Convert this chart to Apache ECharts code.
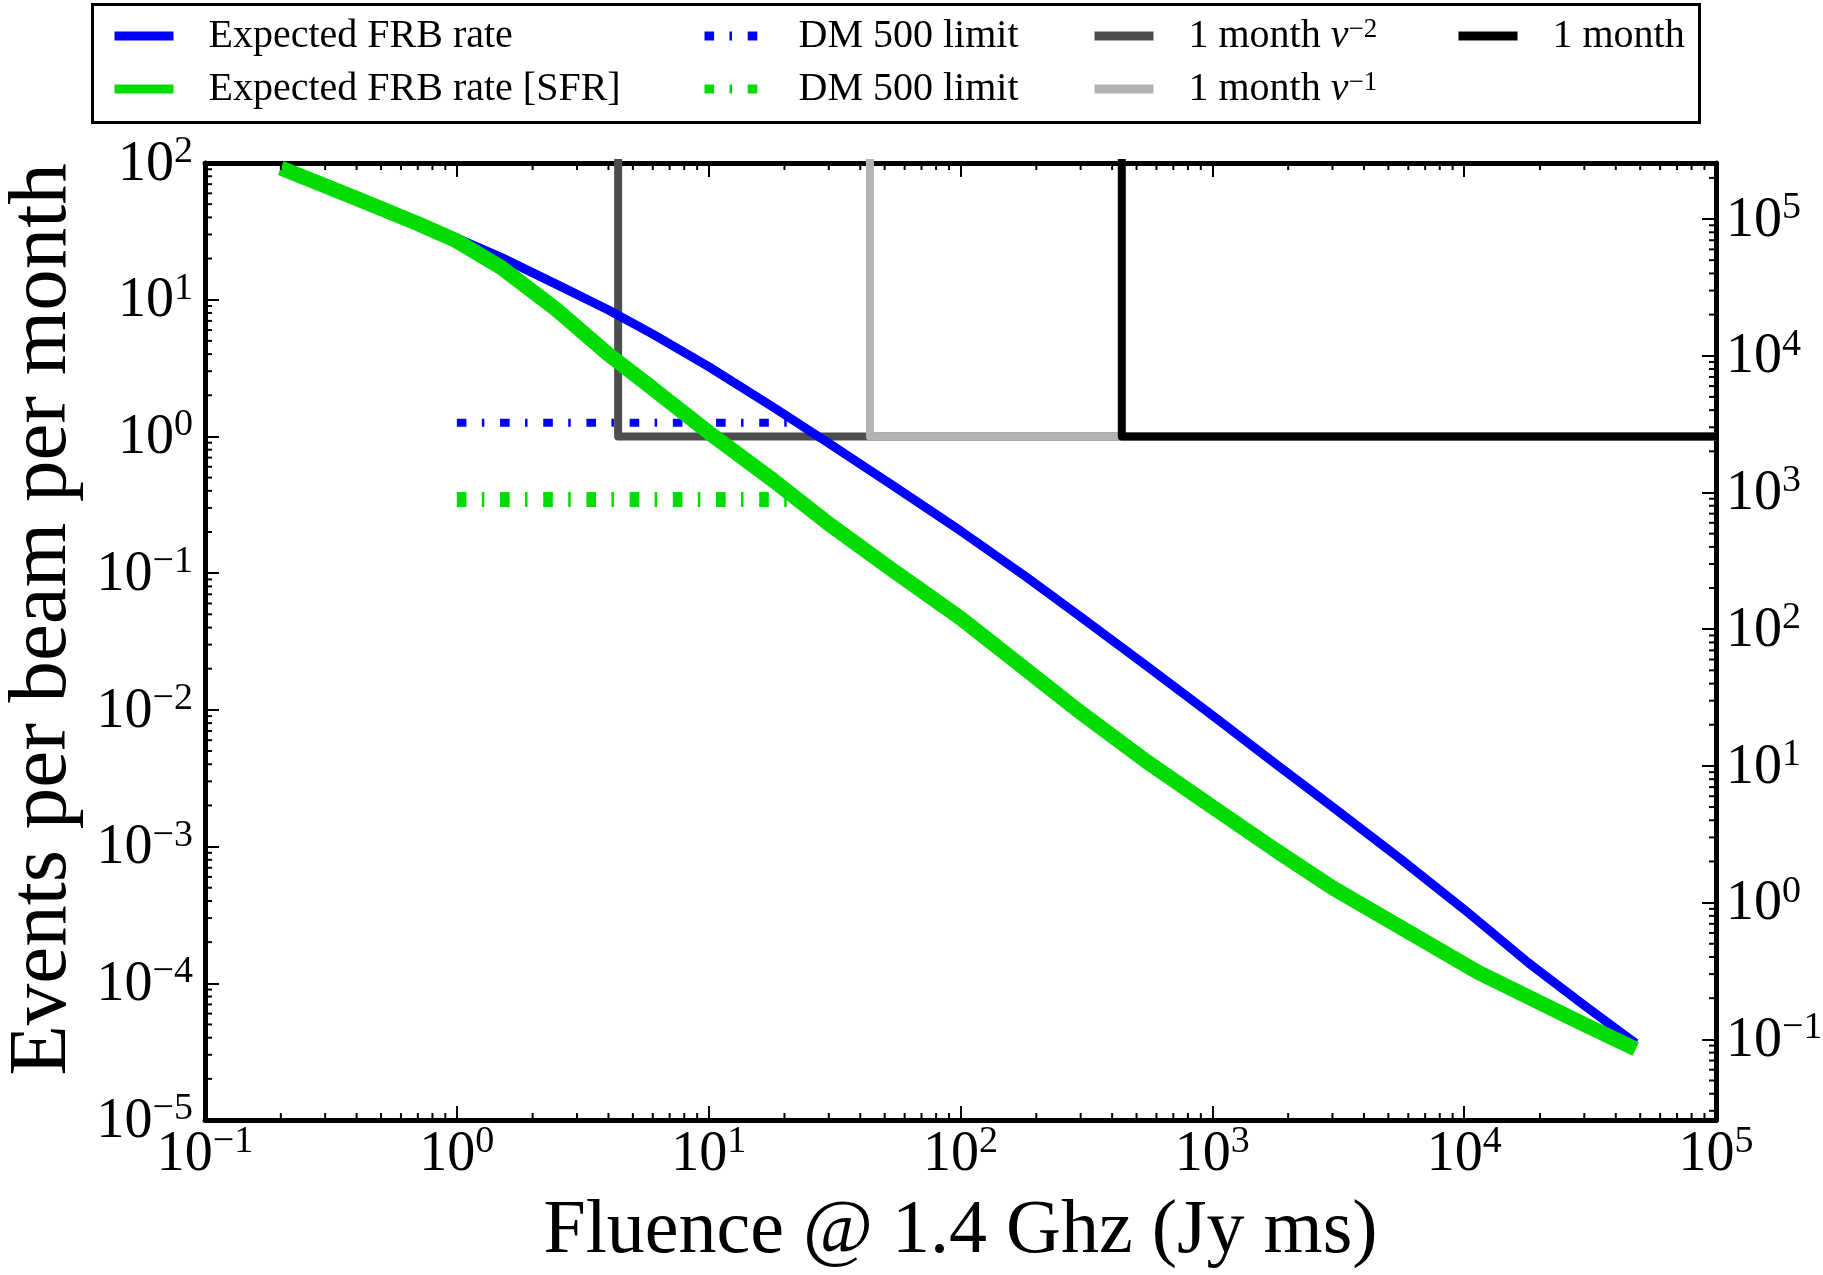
<!DOCTYPE html>
<html><head><meta charset="utf-8">
<script src="https://cdn.jsdelivr.net/npm/echarts@6/dist/echarts.min.js"></script>
<style>html,body{margin:0;padding:0;background:#fff}#c{width:1823px;height:1275px}</style>
</head><body><div id="c"></div>
<script>
// ---- data ----
const expectedFluence = [0.2,0.4,0.7,1,1.5,2.5,4,6,10,18,30,55,100,180,300,550,1000,1800,3000,5500,10000,18000,30000,48000];
const expectedRate    = [91,55,36.3,28.2,20.4,12.9,8.4,5.6,3.24,1.64,0.89,0.427,0.204,0.0955,0.0479,0.0209,0.00912,0.00398,0.00195,8.3e-4,3.47e-4,1.41e-4,6.9e-5,3.63e-5];
const sfrFluence      = [0.2,0.4,0.7,1,1.5,2.5,4,6,10,18,30,55,100,180,300,550,1000,1800,3000,4700,11300,30000,48000];
const sfrRate         = [92,55,36,26.9,17.2,8.4,3.98,2.24,1.07,0.479,0.229,0.102,0.0468,0.020,0.00955,0.00417,0.00195,9.3e-4,5.0e-4,3.09e-4,1.21e-4,5.0e-5,3.31e-5];
const dmFluence       = [1, 21];
const dmLimitExpected = [1.26, 1.26];
const dmLimitSFR      = [0.346, 0.346];
const monthFluence    = [4.37, 43.7, 437];   // nu^-2, nu^-1, flat
const monthRate       = 1;
const monthTop        = 1e4;
// axes
const xMin = 0.1, xMax = 1e5;
const yMin = 1e-5, yMax = 1e2;
const rightScale = Math.pow(10, 3.41);      // right axis = left axis * rightScale
const minorMultipliers = [2,3,4,5,6,7,8,9];
const xDecadeExps = [-1,0,1,2,3,4];
const yDecadeExps = [-5,-4,-3,-2,-1,0,1];
const rDecadeExps = [-2,-1,0,1,2,3,4,5];

const FONT = '"Liberation Serif","DejaVu Serif",serif';
const zip = (a, b) => a.map((v, i) => [v, b[i]]);

function powLabel(v) {
  const e = Math.log10(v), r = Math.round(e);
  if (Math.abs(e - r) > 1e-6) return '';
  return '{b|10}{s|' + String(r).replace('-', '\u2212') + '}';
}
const tickRich = {
  b: {fontFamily: FONT, fontSize: 56, color: '#000', lineHeight: 60, verticalAlign: 'bottom'},
  s: {fontFamily: FONT, fontSize: 38, color: '#000', lineHeight: 46, verticalAlign: 'top'}
};

function minors(exps, lo, hi) {
  const out = [];
  exps.forEach(e => minorMultipliers.forEach(m => {
    const v = m * Math.pow(10, e);
    if (v > lo && v < hi) out.push(v);
  }));
  return out;
}
const MINOR_LEN = 7, TICK_W = 2;
const tickStyle = {stroke: '#000', lineWidth: TICK_W};

const legendNames = {
  'Expected FRB rate': '{g| }{t|Expected FRB rate}',
  'Expected FRB rate [SFR]': '{g| }{t|Expected FRB rate [SFR]}',
  'DM 500 limit': '{g| }{t|DM 500 limit}',
  'DM 500 limit ': '{g| }{t|DM 500 limit}',
  '1 month nu-2': '{g| }{t|1 month }{i|\u03bd}{s|\u22122}',
  '1 month nu-1': '{g| }{t|1 month }{i|\u03bd}{s|\u22121}',
  '1 month': '{g| }{t|1 month}'
};
function mkLegend(left, names) {
  return {
    orient: 'vertical', left: left, top: 16, padding: 0, itemWidth: 59, itemHeight: 40, itemGap: 13,
    selectedMode: false, data: names,
    lineStyle: {width: 9},
    itemStyle: {opacity: 0},
    formatter: n => legendNames[n],
    textStyle: {
      rich: {
        g: {width: 30, fontSize: 40, lineHeight: 40},
        t: {fontFamily: FONT, fontSize: 40, color: '#000', lineHeight: 40},
        i: {fontFamily: FONT, fontSize: 40, fontStyle: 'italic', color: '#000', lineHeight: 40},
        s: {fontFamily: FONT, fontSize: 27, color: '#000', lineHeight: 28, verticalAlign: 'top'}
      }
    }
  };
}

function stepSeries(name, fl, color) {
  return {
    name: name, type: 'line', symbol: 'none', z: 2, silent: true,
    lineStyle: {color: color, width: 8, join: 'round'}, itemStyle: {color: color},
    data: [[fl, monthTop], [fl, monthRate], [xMax, monthRate]]
  };
}
const dmDash = [9.6, 15.4, 2.5, 15.7];

const chart = echarts.init(document.getElementById('c'), null, {renderer: 'canvas'});
chart.setOption({
  animation: false,
  backgroundColor: '#fff',
  grid: {left: 205, right: 107, top: 163, bottom: 155, containLabel: false, outerBoundsMode: 'none'},
  graphic: [{
    type: 'rect', z: 0, shape: {x: 92.5, y: 4.5, width: 1607, height: 118},
    style: {fill: '#fff', stroke: '#000', lineWidth: 3}
  }],
  legend: [
    mkLegend(110, ['Expected FRB rate', 'Expected FRB rate [SFR]']),
    mkLegend(700, ['DM 500 limit', 'DM 500 limit ']),
    mkLegend(1090, ['1 month nu-2', '1 month nu-1']),
    mkLegend(1454, ['1 month'])
  ],
  xAxis: [{
    type: 'log', logBase: 10, min: xMin, max: xMax, position: 'bottom',
    name: 'Fluence @ 1.4 Ghz (Jy ms)', nameLocation: 'middle', nameGap: 74,
    nameTextStyle: {fontFamily: FONT, fontSize: 76, color: '#000'},
    axisLine: {lineStyle: {color: '#000', width: 5}},
    axisTick: {inside: true, length: 14, lineStyle: {color: '#000', width: TICK_W}},
    axisLabel: {formatter: powLabel, rich: tickRich, margin: 3, showMinLabel: true, showMaxLabel: true},
    splitLine: {show: false}
  }, {
    type: 'log', logBase: 10, min: xMin, max: xMax, position: 'top',
    axisLine: {lineStyle: {color: '#000', width: 5}},
    axisTick: {inside: true, length: 14, lineStyle: {color: '#000', width: TICK_W}},
    axisLabel: {show: false}, splitLine: {show: false}
  }],
  yAxis: [{
    type: 'log', logBase: 10, min: yMin, max: yMax, position: 'left',
    name: 'Events per beam per month', nameLocation: 'middle', nameGap: 120,
    nameTextStyle: {fontFamily: FONT, fontSize: 83, color: '#000', padding: [0, 0, 0, 44]},
    axisLine: {lineStyle: {color: '#000', width: 5}},
    axisTick: {inside: true, length: 14, lineStyle: {color: '#000', width: TICK_W}},
    axisLabel: {formatter: powLabel, rich: tickRich, margin: 12, showMinLabel: true, showMaxLabel: true},
    splitLine: {show: false}
  }, {
    type: 'log', logBase: 10, min: yMin * rightScale, max: yMax * rightScale, position: 'right',
    axisLine: {lineStyle: {color: '#000', width: 5}},
    axisTick: {inside: true, length: 14, lineStyle: {color: '#000', width: TICK_W}},
    axisLabel: {formatter: powLabel, rich: tickRich, margin: 10},
    splitLine: {show: false}
  }],
  series: [
    stepSeries('1 month nu-2', monthFluence[0], '#4d4d4d'),
    stepSeries('1 month nu-1', monthFluence[1], '#b3b3b3'),
    stepSeries('1 month', monthFluence[2], '#000000'),
    {name: 'DM 500 limit', type: 'line', symbol: 'none', z: 3, silent: true,
     lineStyle: {color: '#0000ff', width: 8, type: dmDash, cap: 'butt'}, itemStyle: {color: '#0000ff'},
     data: zip(dmFluence, dmLimitExpected)},
    {name: 'DM 500 limit ', type: 'line', symbol: 'none', z: 3, silent: true,
     lineStyle: {color: '#00dc00', width: 15, type: dmDash, cap: 'butt'}, itemStyle: {color: '#00dc00'},
     data: zip(dmFluence, dmLimitSFR)},
    {name: 'Expected FRB rate', type: 'line', symbol: 'none', z: 4, silent: true,
     lineStyle: {color: '#0000ff', width: 9}, itemStyle: {color: '#0000ff'},
     data: zip(expectedFluence, expectedRate)},
    {name: 'Expected FRB rate [SFR]', type: 'line', symbol: 'none', z: 5, silent: true,
     lineStyle: {color: '#00dc00', width: 15}, itemStyle: {color: '#00dc00'},
     data: zip(sfrFluence, sfrRate)},
    // minor ticks (log style) on bottom/top
    {type: 'custom', silent: true, z: 6, xAxisIndex: 0, yAxisIndex: 0, clip: false,
     data: minors(xDecadeExps, xMin, xMax).map(v => [v, 1]),
     renderItem: (params, api) => {
       const cs = params.coordSys;
       const x = api.coord([api.value(0), 1])[0];
       const yb = cs.y + cs.height, yt = cs.y;
       return {type: 'group', children: [
         {type: 'line', shape: {x1: x, y1: yb, x2: x, y2: yb - MINOR_LEN}, style: tickStyle},
         {type: 'line', shape: {x1: x, y1: yt, x2: x, y2: yt + MINOR_LEN}, style: tickStyle}
       ]};
     }},
    // minor ticks on left axis
    {type: 'custom', silent: true, z: 6, xAxisIndex: 0, yAxisIndex: 0, clip: false,
     data: minors(yDecadeExps, yMin, yMax).map(v => [1, v]),
     renderItem: (params, api) => {
       const cs = params.coordSys;
       const y = api.coord([1, api.value(1)])[1];
       return {type: 'line', shape: {x1: cs.x, y1: y, x2: cs.x + MINOR_LEN, y2: y}, style: tickStyle};
     }},
    // minor ticks on right axis
    {type: 'custom', silent: true, z: 6, xAxisIndex: 0, yAxisIndex: 1, clip: false,
     data: minors(rDecadeExps, yMin * rightScale, yMax * rightScale).map(v => [1, v]),
     renderItem: (params, api) => {
       const cs = params.coordSys;
       const y = api.coord([1, api.value(1)])[1];
       const xr = cs.x + cs.width;
       return {type: 'line', shape: {x1: xr, y1: y, x2: xr - MINOR_LEN, y2: y}, style: tickStyle};
     }}
  ]
});
</script>
</body></html>
